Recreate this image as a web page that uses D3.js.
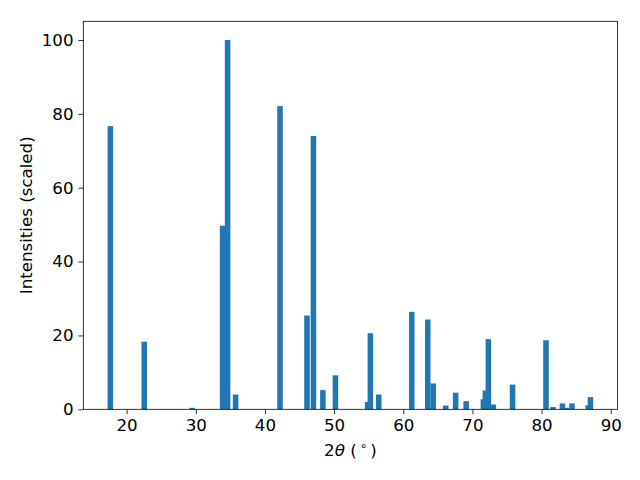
<!DOCTYPE html>
<html>
<head>
<meta charset="utf-8">
<script src="https://cdn.jsdelivr.net/npm/d3@7"></script>
<style>
  body { margin: 0; background: #fff; }
  text { font-family: "DejaVu Sans", sans-serif; }
</style>
</head>
<body>
<div id="chart"></div>
<script>
// peak positions (2theta, degrees) and scaled intensities
var angles = [17.65, 22.55, 29.48, 33.88, 34.60, 35.76, 42.18, 46.08, 47.01, 48.38,
              50.19, 54.85, 55.24, 56.46, 61.23, 63.54, 64.33, 66.13, 67.57, 69.09,
              71.58, 71.87, 72.30, 73.02, 75.80, 80.63, 81.64, 83.01, 83.60, 84.39,
              86.73, 87.06];
var intensities = [76.7, 18.3, 0.4, 49.7, 100, 4.0, 82.1, 25.4, 74.0, 5.2,
                   9.2, 2.0, 20.6, 4.0, 26.4, 24.3, 7.0, 1.0, 4.5, 2.2,
                   2.7, 5.1, 19.0, 1.3, 6.7, 18.7, 0.6, 1.6, 0.4, 1.6,
                   1.1, 3.3];
var xTicks = [20, 30, 40, 50, 60, 70, 80, 90];
var yTicks = [0, 20, 40, 60, 80, 100];
var barWidth = 0.8;

var W = 640, H = 480;
var margin = {left: 83.3, right: 22.5, top: 21.3, bottom: 70.7};
var fs = "16.67px";

var svg = d3.select("#chart").append("svg")
  .attr("width", W).attr("height", H);

var x = d3.scaleLinear()
  .domain([13.74, 90.97])
  .range([margin.left, W - margin.right]);
var y = d3.scaleLinear()
  .domain([0, 105.07])
  .range([H - margin.bottom, margin.top]);

var peaks = angles.map(function(a, i){ return {a: a, v: intensities[i]}; });

svg.append("g").selectAll("rect")
  .data(peaks)
  .enter().append("rect")
  .attr("x", function(d){ return x(d.a - barWidth/2); })
  .attr("width", function(d){ return x(d.a + barWidth/2) - x(d.a - barWidth/2); })
  .attr("y", function(d){ return y(d.v); })
  .attr("height", function(d){ return y(0) - y(d.v); })
  .attr("fill", "#1f77b4");

var xAxis = svg.append("g")
  .attr("transform", "translate(0," + (H - margin.bottom) + ")")
  .call(d3.axisBottom(x).tickValues(xTicks).tickSize(4.9).tickPadding(4.9).tickSizeOuter(0));
var yAxis = svg.append("g")
  .attr("transform", "translate(" + margin.left + ",0)")
  .call(d3.axisLeft(y).tickValues(yTicks).tickSize(4.9).tickPadding(4.9).tickSizeOuter(0));

[xAxis, yAxis].forEach(function(g){
  g.select(".domain").remove();
  g.selectAll("line").attr("stroke", "#000").attr("stroke-width", 0.8);
  g.selectAll("text").attr("font-size", fs).attr("fill", "#000")
    .style("font-family", "'DejaVu Sans', sans-serif");
});

// frame
svg.append("rect")
  .attr("x", margin.left).attr("y", margin.top)
  .attr("width", W - margin.left - margin.right)
  .attr("height", H - margin.top - margin.bottom)
  .attr("fill", "none").attr("stroke", "#000").attr("stroke-width", 0.8);

// x label: 2θ (°)
var xl = svg.append("text")
  .attr("x", (margin.left + W - margin.right) / 2)
  .attr("y", 456)
  .attr("text-anchor", "middle")
  .attr("font-size", fs);
xl.append("tspan").text("2");
xl.append("tspan").attr("font-style", "italic").text("θ");
xl.append("tspan").text(" (");
xl.append("tspan").attr("dx", 3).attr("dy", -6).attr("font-size", "12px").text("∘");
xl.append("tspan").attr("dx", 3).attr("dy", 6).text(")");

svg.append("text")
  .attr("transform", "translate(32," + ((margin.top + H - margin.bottom) / 2) + ") rotate(-90)")
  .attr("text-anchor", "middle")
  .attr("font-size", fs)
  .text("Intensities (scaled)");
</script>
</body>
</html>
